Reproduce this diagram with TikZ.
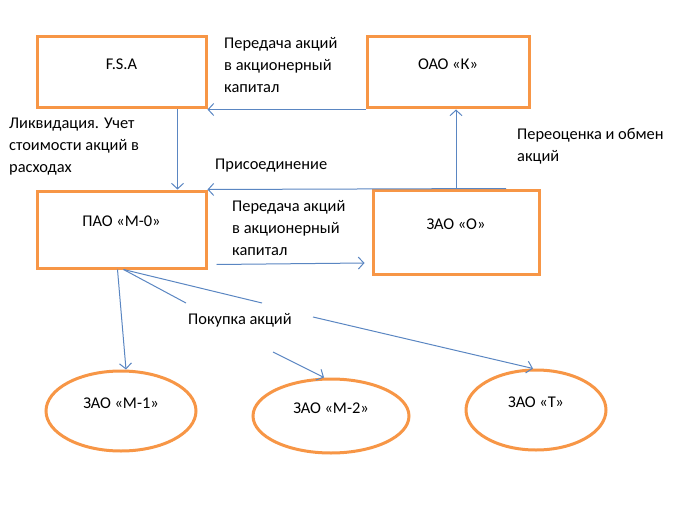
\documentclass[tikz,border=0pt]{standalone}
\usepackage{fontspec}
\setmainfont{Carlito}
\usepackage{xcolor}
\usetikzlibrary{arrows.meta, positioning, calc, shapes.geometric}

\definecolor{boxorange}{HTML}{F79646}
\definecolor{lineblue}{HTML}{5A86C2}

\begin{document}
\begin{tikzpicture}[
    x=1pt, y=-1pt,
    %% Company boxes
    cbox/.style = {
      draw=boxorange, line width=3pt, fill=white,
      rectangle, align=center, font=\fontsize{16.4}{22}\selectfont,
      text height=11pt, text depth=17pt, inner sep=2pt},
    %% Subsidiary ellipses
    cell/.style = {
      draw=boxorange, line width=3pt, fill=white,
      ellipse, align=center, font=\fontsize{16.4}{22}\selectfont,
      text height=11pt, text depth=17pt, inner sep=2pt},
    %% Free text labels
    lab/.style = {
      anchor=north west, align=left, inner sep=0pt,
      font=\fontsize{16.4}{22}\selectfont},
    %% Connectors
    arr/.style = {-{Straight Barb[length=5.5pt, width=12pt]}, line width=1pt, lineblue},
    ln/.style  = {line width=1pt, lineblue},
  ]
    \useasboundingbox (0,0) rectangle (674,516);

    %% ── Upper row ───────────────────────────────────────────────────────
    \node[cbox, minimum width=169pt, minimum height=71pt] (F)  at (121.5,72.5) {F.S.A};
    \node[cbox, minimum width=162pt, minimum height=71pt] (K)  at (448,72.5)   {ОАО «К»};

    %% ── Middle row ──────────────────────────────────────────────────────
    \node[cbox, minimum width=169pt, minimum height=77pt] (M0) at (121.5,229.5) {ПАО «М-0»};
    \node[cbox, minimum width=166pt, minimum height=84pt] (O)  at (456,232)     {ЗАО «О»};

    %% ── Subsidiaries ────────────────────────────────────────────────────
    \node[cell, minimum width=150pt, minimum height=80pt] (M1) at (121,411) {ЗАО «М-1»};
    \node[cell, minimum width=156pt, minimum height=74pt] (M2) at (331,416) {ЗАО «М-2»};
    \node[cell, minimum width=140pt, minimum height=80pt] (T)  at (536,410) {ЗАО «Т»};

    %% ── Labels ──────────────────────────────────────────────────────────
    \node[lab] (lTop)  at (224,37)  {Передача акций\\в акционерный\\капитал};
    \node[lab] (lLiq)  at (9,118)   {Ликвидация. Учет\\стоимости акций в\\расходах};
    \node[lab] (lRev)  at (517,128) {Переоценка и обмен\\акций};
    \node[lab] (lJoin) at (215,159) {Присоединение};
    \node[lab] (lMid)  at (232,200) {Передача акций\\в акционерный\\капитал};
    \node[lab] (lBuy)  at (188,313) {Покупка акций};

    %% free ends round the "Покупка акций" label
    \coordinate (b1) at (186,303);
    \coordinate (b2) at (262,303);
    \coordinate (b3) at (313,317);
    \coordinate (b4) at (273,352);

    %% ── Connectors ──────────────────────────────────────────────────────
    \draw[arr] (K.south west) -- (F.south east);
    \draw[arr] ([xshift=56pt]F.south) -- ([xshift=56pt]M0.north);
    \draw[arr] (O.north) -- (O.north |- K.south);
    \draw[arr] ([xshift=50pt]O.north) -- (M0.north east);
    \draw[arr] ([xshift=9pt,yshift=5pt]M0.south east) -- ([xshift=-7pt]O.west |- 0,263);

    \draw[arr] ([xshift=-4pt]M0.south) -- ([xshift=5pt]M1.north);
    \draw[ln]  ([xshift=2pt]M0.south) -- (b1);
    \draw[ln]  ([xshift=2pt]M0.south) -- (b2);
    \draw[arr] (b3) -- ([xshift=-3pt]T.north);
    \draw[arr] (b4) -- ([xshift=-7pt]M2.north);

\end{tikzpicture}
\end{document}
